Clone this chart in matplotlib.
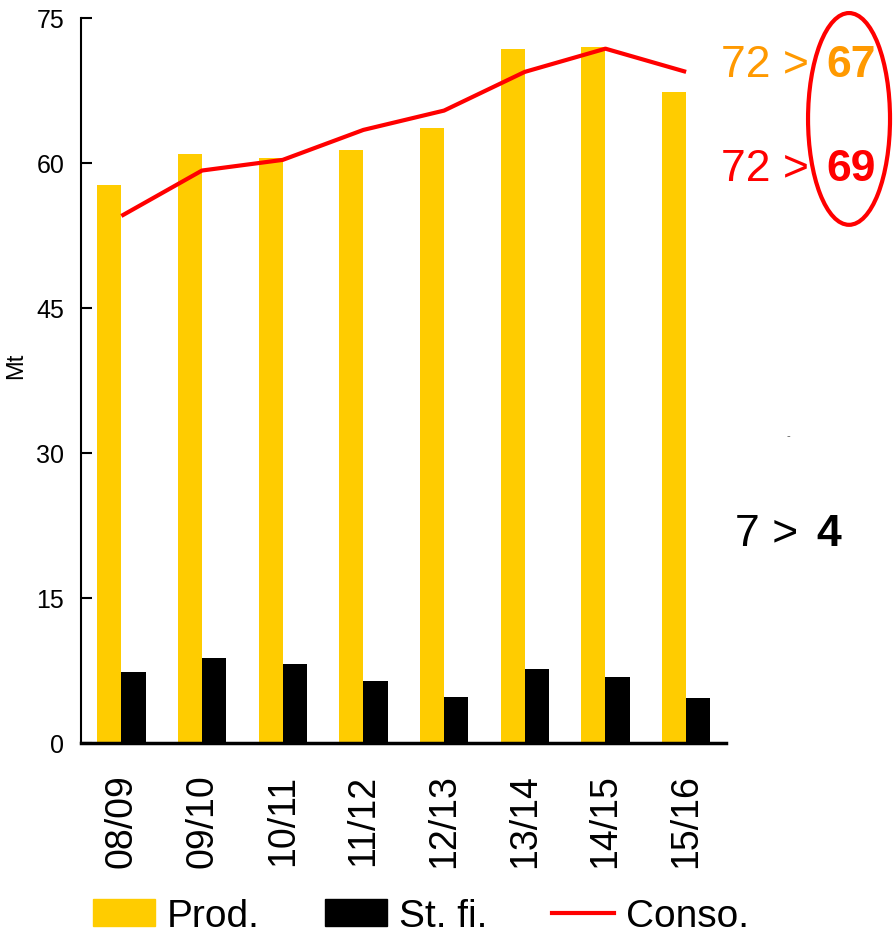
import matplotlib
matplotlib.use("Agg")
from matplotlib import pyplot as plt
from matplotlib.patches import Ellipse, Patch
from matplotlib.lines import Line2D
import numpy as np

# data
seasons = ["08/09", "09/10", "10/11", "11/12", "12/13", "13/14", "14/15", "15/16"]
prod = [57.7, 60.9, 60.5, 61.3, 63.6, 71.8, 72.0, 67.3]
stocks = [7.3, 8.8, 8.2, 6.4, 4.8, 7.6, 6.8, 4.6]
conso = [54.5, 59.2, 60.3, 63.4, 65.4, 69.4, 71.8, 69.4]
yticks = [0, 15, 30, 45, 60, 75]

YELLOW = "#FFCC00"
RED = "#FF0000"
ORANGE = "#FF9900"

plt.rcParams["font.family"] = ["Liberation Sans", "DejaVu Sans"]

fig = plt.figure(figsize=(8.94, 9.37), dpi=100)
ax = fig.add_axes([0.0906, 0.206, 0.722, 0.774])

x = np.arange(len(seasons))
w = 0.3
ax.bar(x - w / 2, prod, width=w, color=YELLOW, linewidth=0)
ax.bar(x + w / 2, stocks, width=w, color="black", linewidth=0)
ax.plot(x, conso, color=RED, linewidth=3, solid_capstyle="butt")

ax.set_xlim(-0.5, 7.5)
ax.set_ylim(0, 75)
ax.set_yticks(yticks)
ax.set_yticklabels([str(t) for t in yticks], fontsize=18)
ax.set_xticks(x)
ax.set_xticklabels(seasons, rotation=90, fontsize=27)
ax.tick_params(axis="y", direction="in", length=8, width=1.5, pad=12)
ax.tick_params(axis="x", length=0, pad=22)
for s in ["top", "right"]:
    ax.spines[s].set_visible(False)
ax.spines["left"].set_linewidth(1.5)
ax.spines["bottom"].set_linewidth(2.5)
ax.set_ylabel("Mt", fontsize=17)
ax.yaxis.set_label_coords(-0.083, 0.521)

# annotations on the right
fig.text(0.806, 0.9178, "72 > ", color=ORANGE, fontsize=32, ha="left", va="baseline")
fig.text(0.924, 0.9178, "67", color=ORANGE, fontsize=32, fontweight="bold", ha="left", va="baseline")
fig.text(0.806, 0.8068, "72 > ", color=RED, fontsize=32, ha="left", va="baseline")
fig.text(0.924, 0.8068, "69", color=RED, fontsize=32, fontweight="bold", ha="left", va="baseline")
fig.text(0.822, 0.4173, "7 > ", color="black", fontsize=32, ha="left", va="baseline")
fig.text(0.913, 0.4173, "4", color="black", fontsize=32, fontweight="bold", ha="left", va="baseline")
fig.text(0.882, 0.535, "-", color="#555555", fontsize=8, ha="center", va="center")

ell = Ellipse((0.9497, 0.872), 0.0917, 0.226, transform=fig.transFigure,
              fill=False, edgecolor=RED, linewidth=3)
fig.add_artist(ell)

handles = [Patch(color=YELLOW), Patch(color="black"),
           Line2D([0], [0], color=RED, linewidth=3)]
fig.legend(handles, ["Prod.", "St. fi.", "Conso."], loc="lower left",
           bbox_to_anchor=(0.104, 0.002), ncol=3, frameon=False,
           prop={"size": 28}, borderpad=0, borderaxespad=0,
           handlelength=1.6, handleheight=0.67, handletextpad=0.3, columnspacing=1.67)

fig.savefig("out.png", dpi=100)
